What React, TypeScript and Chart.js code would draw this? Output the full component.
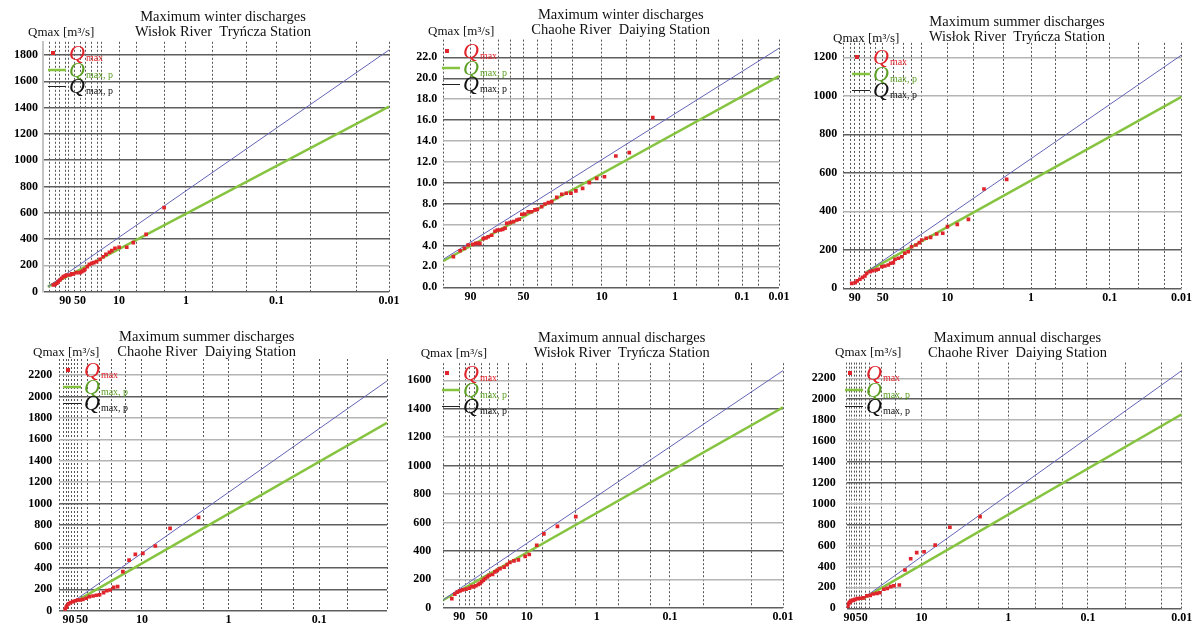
import React, { useEffect, useRef } from 'react';
import { Chart, registerables } from 'chart.js';

Chart.register(...registerables);

const SERIF = '"Liberation Serif", "Times New Roman", serif';
const RED = '#e0242b';
const GREEN = '#86c440';
const GREEN_TEXT = '#5c9f24';
const BLUE = '#6464b8';

// x values are the reduced variate of the probability paper (0 = left edge, 100 = right edge)
// ---------- Panel 1: winter, Wisłok ----------
const winterWislokX = [3.0, 3.5, 4.0, 4.4, 4.9, 5.4, 5.9, 6.4, 6.8, 7.8, 8.3, 8.8, 9.7, 10.7, 11.2, 11.7, 12.1, 12.8, 13.4, 14.1, 14.7, 15.5, 16.5, 17.4, 18.2, 19.2, 19.9, 20.8, 22.0, 24.2, 26.1, 29.8, 35.0];
const winterWislokQ = [51, 56, 64, 76, 89, 102, 114, 119, 127, 127, 135, 135, 145, 145, 152, 160, 170, 190, 208, 216, 221, 228, 246, 266, 284, 300, 312, 330, 338, 338, 373, 436, 639];
const winterWislokLineX = [1.4, 100];
const winterWislokBlueQ = [38, 1838];
const winterWislokGreenQ = [38, 1407];
const winterWislokGrid = [1.8, 3.5, 4.9, 6.4, 7.3, 9.0, 10.7, 12.4, 14.1, 15.7, 17.0, 22.0, 26.9, 35.0, 41.3, 49.1, 58.9, 67.5, 77.2, 90.7, 100];
const winterWislokLabelX = [6.4, 10.7, 22.0, 41.3, 67.5, 100];
const winterWislokYTicks = [0, 200, 400, 600, 800, 1000, 1200, 1400, 1600, 1800];

// ---------- Panel 2: winter, Chaohe ----------
const winterChaoheX = [3.0, 5.0, 6.3, 7.4, 8.8, 9.7, 10.4, 10.9, 11.9, 12.7, 13.4, 14.4, 15.4, 16.1, 16.9, 17.7, 18.4, 18.9, 19.9, 20.9, 21.9, 22.6, 23.4, 24.3, 25.3, 26.3, 27.3, 28.0, 29.3, 30.3, 31.3, 32.3, 33.8, 35.3, 36.6, 38.0, 39.5, 41.5, 43.5, 45.7, 48.0, 51.4, 55.4, 62.4];
const winterChaoheQ = [2.93, 3.50, 3.73, 4.05, 4.11, 4.21, 4.21, 4.21, 4.65, 4.72, 4.84, 4.98, 5.36, 5.48, 5.48, 5.55, 5.65, 6.12, 6.18, 6.28, 6.44, 6.51, 6.99, 7.01, 7.23, 7.23, 7.40, 7.46, 7.71, 7.97, 8.10, 8.19, 8.61, 8.90, 9.00, 9.00, 9.22, 9.47, 10.01, 10.43, 10.58, 12.56, 12.88, 16.23];
const winterChaoheLineX = [0, 100];
const winterChaoheBlueQ = [2.68, 22.87];
const winterChaoheGreenQ = [2.52, 20.2];
const winterChaoheGrid = [0, 8.1, 12.1, 16.4, 19.9, 23.9, 28.2, 32.3, 38.6, 47.2, 54.7, 61.3, 69.0, 75.5, 81.9, 89.0, 93.9, 100];
const winterChaoheLabelX = [8.1, 23.9, 47.2, 69.0, 89.0, 100];
const winterChaoheYTicks = [0, 2, 4, 6, 8, 10, 12, 14, 16, 18, 20, 22];

// ---------- Panel 3: summer, Wisłok ----------
const summerWislokX = [2.5, 3.5, 4.1, 4.9, 5.7, 6.4, 6.9, 7.9, 8.7, 9.7, 10.3, 11.4, 12.3, 13.3, 14.0, 14.8, 15.3, 16.3, 17.3, 18.2, 19.2, 20.2, 21.5, 22.5, 23.2, 24.5, 25.8, 27.6, 29.4, 30.8, 33.7, 37.0, 41.6, 48.3];
const summerWislokQ = [26, 29, 39, 47, 57, 64, 78, 86, 91, 95, 99, 112, 116, 121, 130, 133, 151, 156, 164, 182, 190, 216, 225, 237, 251, 260, 265, 282, 286, 320, 332, 358, 516, 566];
const summerWislokLineX = [6.9, 100];
const summerWislokBlueQ = [85, 1212];
const summerWislokGreenQ = [85, 995];
const summerWislokGrid = [0, 2.0, 3.4, 4.9, 6.4, 7.9, 9.4, 11.7, 14.7, 17.9, 20.3, 23.1, 30.7, 38.4, 47.3, 55.5, 62.6, 71.9, 78.8, 87.4, 95.1, 100];
const summerWislokLabelX = [3.4, 11.7, 30.7, 55.5, 78.8, 100];
const summerWislokYTicks = [0, 200, 400, 600, 800, 1000, 1200];

// ---------- Panel 4: summer, Chaohe ----------
const summerChaoheX = [1.8, 2.1, 2.3, 2.8, 3.4, 4.2, 4.9, 5.6, 6.4, 7.2, 8.2, 9.2, 10.3, 11.3, 12.3, 13.5, 14.5, 15.5, 16.6, 17.8, 19.4, 21.3, 23.2, 25.5, 29.3, 33.8, 42.5];
const summerChaoheQ = [13, 32, 44, 63, 75, 84, 93, 100, 100, 106, 116, 131, 137, 144, 149, 168, 187, 193, 218, 224, 364, 473, 526, 536, 604, 769, 872];
const summerChaoheLineX = [4.9, 100];
const summerChaoheBlueQ = [100, 2145];
const summerChaoheGreenQ = [85, 1755];
const summerChaoheGrid = [0, 1.3, 2.3, 2.8, 3.7, 4.5, 5.5, 6.9, 8.6, 12.3, 15.9, 20.1, 25.2, 32.6, 44.0, 51.6, 61.6, 71.4, 79.3, 88.0, 100];
const summerChaoheLabelX = [2.8, 6.9, 25.2, 51.6, 79.3];
const summerChaoheYTicks = [0, 200, 400, 600, 800, 1000, 1200, 1400, 1600, 1800, 2000, 2200];

// ---------- Panel 5: annual, Wisłok ----------
const annualWislokX = [2.5, 3.4, 4.1, 4.9, 5.7, 6.7, 7.7, 8.4, 9.0, 9.6, 10.3, 10.8, 11.3, 11.8, 12.3, 13.0, 13.5, 14.5, 15.2, 15.9, 16.7, 17.9, 18.8, 19.6, 20.8, 22.1, 24.1, 25.3, 27.5, 29.6, 33.6, 39.0];
const annualWislokQ = [64, 96, 110, 119, 126, 131, 138, 149, 149, 155, 165, 172, 183, 195, 206, 217, 229, 234, 252, 263, 275, 286, 303, 320, 330, 337, 362, 375, 440, 520, 573, 641];
const annualWislokLineX = [0, 100];
const annualWislokBlueQ = [57, 1668];
const annualWislokGreenQ = [55, 1410];
const annualWislokGrid = [0, 4.7, 6.4, 7.8, 9.3, 11.3, 13.5, 16.0, 19.3, 24.6, 29.3, 39.0, 45.2, 51.6, 61.1, 66.7, 76.5, 90.8, 100];
const annualWislokLabelX = [4.7, 11.3, 24.6, 45.2, 66.7, 100];
const annualWislokYTicks = [0, 200, 400, 600, 800, 1000, 1200, 1400, 1600];

// ---------- Panel 6: annual, Chaohe ----------
const annualChaoheX = [0.3, 0.5, 0.8, 1.1, 1.5, 2.0, 2.5, 3.2, 4.0, 5.0, 6.0, 7.0, 7.9, 9.0, 9.9, 11.1, 12.1, 13.1, 14.1, 15.7, 17.4, 19.1, 20.9, 23.1, 26.4, 30.8, 39.8];
const annualChaoheQ = [15, 41, 54, 63, 73, 79, 86, 92, 96, 99, 118, 124, 137, 143, 149, 182, 191, 207, 216, 223, 366, 474, 532, 541, 605, 775, 876];
const annualChaoheLineX = [4.5, 100];
const annualChaoheBlueQ = [86, 2273];
const annualChaoheGreenQ = [86, 1855];
const annualChaoheGrid = [0, 0.8, 1.5, 2.2, 3.0, 3.8, 4.5, 5.5, 6.9, 10.5, 14.7, 22.3, 29.8, 39.2, 48.2, 56.5, 64.3, 72.0, 83.1, 94.0, 100];
const annualChaoheLabelX = [0.8, 4.5, 22.3, 48.2, 72.0, 100];
const annualChaoheYTicks = [0, 200, 400, 600, 800, 1000, 1200, 1400, 1600, 1800, 2000, 2200];

const probLabels = ['90', '50', '10', '1', '0.1', '0.01'];

const titleWinter = 'Maximum winter discharges';
const titleSummer = 'Maximum summer discharges';
const titleAnnual = 'Maximum annual discharges';
const stationWislok = 'Wisłok River  Tryńcza Station';
const stationChaohe = 'Chaohe River  Daiying Station';

type Panel = {
  id: string;
  titles: string[];
  xs: number[]; qs: number[];
  lineX: number[]; blueQ: number[]; greenQ: number[];
  grid: number[]; labelX: number[];
  yTicks: number[]; yMax: number; yDec: number;
  lightRows: number[];
  area: { L: number; T: number; R: number; B: number };
  yPad: number; solidLeft: boolean;
  title: { cx: number; y1: number; y2: number };
  unit: { x: number; y: number };
  legend: { x: number; y: number };
};

const panels: Panel[] = [
  {
    id: 'p1', titles: [titleWinter, stationWislok],
    xs: winterWislokX, qs: winterWislokQ, lineX: winterWislokLineX, blueQ: winterWislokBlueQ, greenQ: winterWislokGreenQ,
    grid: winterWislokGrid, labelX: winterWislokLabelX, yTicks: winterWislokYTicks, yMax: 1900, yDec: 0,
    lightRows: [200],
    area: { L: 43, T: 41.8, R: 389, B: 291.7 }, yPad: 5, solidLeft: true,
    title: { cx: 223, y1: 17, y2: 32 }, unit: { x: 28, y: 33 }, legend: { x: 48, y: 53 },
  },
  {
    id: 'p2', titles: [titleWinter, stationChaohe],
    xs: winterChaoheX, qs: winterChaoheQ, lineX: winterChaoheLineX, blueQ: winterChaoheBlueQ, greenQ: winterChaoheGreenQ,
    grid: winterChaoheGrid, labelX: winterChaoheLabelX, yTicks: winterChaoheYTicks, yMax: 23.7, yDec: 1,
    lightRows: [2, 6, 12, 14, 18],
    area: { L: 443.3, T: 39.6, R: 779, B: 287.3 }, yPad: 6, solidLeft: false,
    title: { cx: 620.7, y1: 15, y2: 30 }, unit: { x: 428, y: 32 }, legend: { x: 442, y: 51 },
  },
  {
    id: 'p3', titles: [titleSummer, stationWislok],
    xs: summerWislokX, qs: summerWislokQ, lineX: summerWislokLineX, blueQ: summerWislokBlueQ, greenQ: summerWislokGreenQ,
    grid: summerWislokGrid, labelX: summerWislokLabelX, yTicks: summerWislokYTicks, yMax: 1275, yDec: 0,
    lightRows: [400, 1000, 1200],
    area: { L: 843.3, T: 42.9, R: 1181.5, B: 288.3 }, yPad: 6, solidLeft: false,
    title: { cx: 1017, y1: 21.7, y2: 36.7 }, unit: { x: 833, y: 38.3 }, legend: { x: 852, y: 57 },
  },
  {
    id: 'p4', titles: [titleSummer, stationChaohe],
    xs: summerChaoheX, qs: summerChaoheQ, lineX: summerChaoheLineX, blueQ: summerChaoheBlueQ, greenQ: summerChaoheGreenQ,
    grid: summerChaoheGrid, labelX: summerChaoheLabelX, yTicks: summerChaoheYTicks, yMax: 2350, yDec: 0,
    lightRows: [600, 1200, 1400, 1600, 1800, 2200],
    area: { L: 59.3, T: 359, R: 387, B: 610.7 }, yPad: 7, solidLeft: false,
    title: { cx: 206.7, y1: 336.7, y2: 352.3 }, unit: { x: 33, y: 352.3 }, legend: { x: 63, y: 370 },
  },
  {
    id: 'p5', titles: [titleAnnual, stationWislok],
    xs: annualWislokX, qs: annualWislokQ, lineX: annualWislokLineX, blueQ: annualWislokBlueQ, greenQ: annualWislokGreenQ,
    grid: annualWislokGrid, labelX: annualWislokLabelX, yTicks: annualWislokYTicks, yMax: 1720, yDec: 0,
    lightRows: [200, 600, 800, 1200, 1600],
    area: { L: 443.3, T: 363.2, R: 783, B: 613.3 }, yPad: 12, solidLeft: false,
    title: { cx: 621.7, y1: 338.3, y2: 353.3 }, unit: { x: 420.7, y: 353.3 }, legend: { x: 442, y: 373 },
  },
  {
    id: 'p6', titles: [titleAnnual, stationChaohe],
    xs: annualChaoheX, qs: annualChaoheQ, lineX: annualChaoheLineX, blueQ: annualChaoheBlueQ, greenQ: annualChaoheGreenQ,
    grid: annualChaoheGrid, labelX: annualChaoheLabelX, yTicks: annualChaoheYTicks, yMax: 2350, yDec: 0,
    lightRows: [200, 400, 600, 1000, 1600, 1800, 2200],
    area: { L: 846.7, T: 362.6, R: 1181.7, B: 608.3 }, yPad: 11, solidLeft: false,
    title: { cx: 1017.5, y1: 338.3, y2: 353.3 }, unit: { x: 835, y: 352.3 }, legend: { x: 845, y: 373 },
  },
];

const PAGE_W = 1202;
const PAGE_H = 627;

function drawQ(ctx: CanvasRenderingContext2D, x: number, baseline: number, sub: string, color: string) {
  ctx.fillStyle = color;
  ctx.font = `italic 22px ${SERIF}`;
  ctx.textAlign = 'left';
  ctx.textBaseline = 'alphabetic';
  ctx.fillText('Q', x, baseline);
  const w = ctx.measureText('Q').width;
  ctx.font = `10px ${SERIF}`;
  ctx.fillText(sub, x + w + 1, baseline + 1);
}

function makeChart(canvas: HTMLCanvasElement, p: Panel) {
  const yW = Math.min(45, p.area.L);
  const xH = Math.min(16, PAGE_H - p.area.B);

  const decor = {
    id: 'decor' + p.id,
    afterDraw(chart: any) {
      const ctx: CanvasRenderingContext2D = chart.ctx;
      ctx.save();
      ctx.fillStyle = '#111';
      ctx.font = `14.5px ${SERIF}`;
      ctx.textAlign = 'center';
      ctx.textBaseline = 'middle';
      ctx.fillText(p.titles[0], p.title.cx, p.title.y1);
      ctx.fillText(p.titles[1], p.title.cx, p.title.y2);
      ctx.font = `13px ${SERIF}`;
      ctx.textAlign = 'left';
      ctx.fillText('Qmax [m³/s]', p.unit.x, p.unit.y);
      const lx = p.legend.x;
      const r1 = p.legend.y, r2 = r1 + 17, r3 = r1 + 33;
      const qx = lx + 21;
      ctx.fillStyle = RED;
      ctx.fillRect(lx + 3, r1 - 2, 4, 4);
      drawQ(ctx, qx, r1 + 7, 'max', RED);
      ctx.strokeStyle = GREEN;
      ctx.lineWidth = 2.5;
      ctx.beginPath(); ctx.moveTo(lx, r2); ctx.lineTo(lx + 18, r2); ctx.stroke();
      drawQ(ctx, qx, r2 + 7, 'max, p', GREEN_TEXT);
      ctx.strokeStyle = '#222';
      ctx.lineWidth = 1;
      ctx.beginPath(); ctx.moveTo(lx, r3 + 0.5); ctx.lineTo(lx + 18, r3 + 0.5); ctx.stroke();
      drawQ(ctx, qx, r3 + 7, 'max, p', '#111');
      ctx.restore();
    },
  };

  const labelFor = (v: number) => {
    for (let i = 0; i < p.labelX.length; i++) {
      if (Math.abs(p.labelX[i] - v) < 1e-6) return probLabels[i];
    }
    return '';
  };

  const rowColor = (c: any) => {
    const v = c.tick ? c.tick.value : NaN;
    return p.lightRows.some((r) => Math.abs(r - v) < 1e-6) ? '#b4b4b4' : '#5e5e5e';
  };

  return new Chart(canvas, {
    type: 'scatter',
    data: {
      datasets: [
        {
          type: 'scatter',
          data: p.xs.map((x, i) => ({ x, y: p.qs[i] })),
          pointStyle: 'rect',
          pointRadius: 2.6,
          backgroundColor: RED,
          borderWidth: 0,
          order: 0,
        } as any,
        {
          type: 'line',
          data: p.lineX.map((x, i) => ({ x, y: p.blueQ[i] })),
          borderColor: BLUE,
          borderWidth: 1,
          pointRadius: 0,
          fill: false,
          order: 1,
        } as any,
        {
          type: 'line',
          data: p.lineX.map((x, i) => ({ x, y: p.greenQ[i] })),
          borderColor: GREEN,
          borderWidth: 2.5,
          pointRadius: 0,
          fill: false,
          order: 2,
        } as any,
      ],
    },
    options: {
      responsive: false,
      animation: false,
      events: [],
      layout: {
        padding: {
          left: p.area.L - yW,
          top: p.area.T,
          right: PAGE_W - p.area.R,
          bottom: PAGE_H - p.area.B - xH,
        },
      },
      plugins: {
        legend: { display: false },
        tooltip: { enabled: false },
        title: { display: false },
      },
      scales: {
        x: {
          type: 'linear',
          min: 0,
          max: 100,
          afterFit: (s: any) => { s.height = xH; },
          afterBuildTicks: (s: any) => { s.ticks = p.grid.map((v) => ({ value: v })); },
          grid: { color: '#555', lineWidth: 1, drawTicks: false },
          border: { display: false, dash: [2, 2] },
          ticks: {
            autoSkip: false,
            maxRotation: 0,
            minRotation: 0,
            padding: 2,
            color: '#000',
            font: { family: SERIF, size: 12, weight: 'bold' },
            callback: (v: any) => labelFor(Number(v)),
          },
        },
        y: {
          type: 'linear',
          min: 0,
          max: p.yMax,
          afterFit: (s: any) => { s.width = yW; },
          afterBuildTicks: (s: any) => { s.ticks = p.yTicks.map((v) => ({ value: v })); },
          grid: { color: rowColor, lineWidth: 1.5, drawTicks: false },
          border: { display: p.solidLeft, color: '#c4c4c4', width: 2 },
          ticks: {
            padding: p.yPad,
            color: '#000',
            font: { family: SERIF, size: 12, weight: 'bold' },
            callback: (v: any) => Number(v).toFixed(p.yDec),
          },
        },
      },
    } as any,
    plugins: [decor],
  });
}

function PanelCanvas({ panel }: { panel: Panel }) {
  const ref = useRef<HTMLCanvasElement>(null);
  useEffect(() => {
    if (!ref.current) return;
    const chart = makeChart(ref.current, panel);
    return () => chart.destroy();
  }, [panel]);
  return (
    <canvas
      ref={ref}
      width={PAGE_W}
      height={PAGE_H}
      style={{ position: 'absolute', left: 0, top: 0, width: PAGE_W, height: PAGE_H }}
    />
  );
}

export default function App() {
  return (
    <div style={{ position: 'absolute', left: 0, top: 0, width: PAGE_W, height: PAGE_H, background: '#fff', overflow: 'hidden' }}>
      {panels.map((p) => (
        <PanelCanvas key={p.id} panel={p} />
      ))}
    </div>
  );
}
